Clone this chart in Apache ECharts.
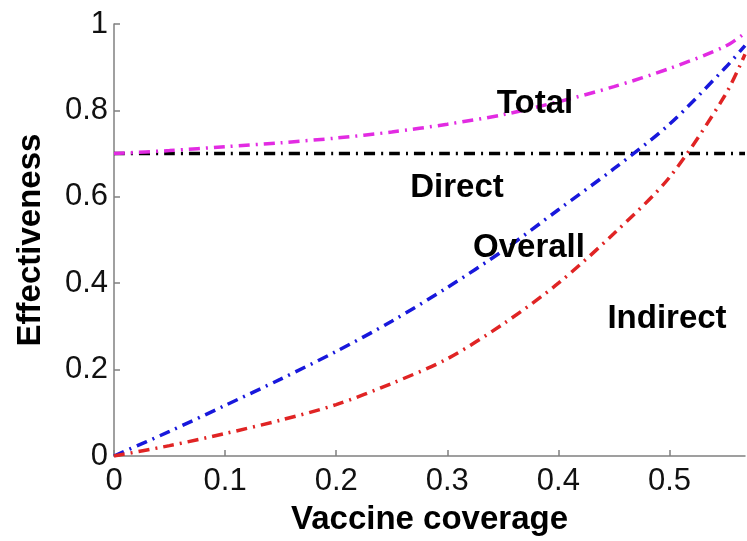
<!DOCTYPE html>
<html>
<head>
<meta charset="utf-8">
<script src="https://cdn.jsdelivr.net/npm/echarts@6/dist/echarts.min.js"></script>
<style>html,body{margin:0;padding:0;background:#fff;}#c{width:747px;height:541px;}</style>
</head>
<body>
<div id="c"></div>
<script>
// Vaccine coverage sample points
const coverage = [0, 0.05, 0.1, 0.15, 0.2, 0.25, 0.3, 0.35, 0.4, 0.45, 0.5, 0.55, 0.568];
const totalEff    = [0.70, 0.707, 0.716, 0.725, 0.736, 0.75, 0.768, 0.79, 0.82, 0.855, 0.897, 0.948, 0.979];
const directEff   = [0.70, 0.70, 0.70, 0.70, 0.70, 0.70, 0.70, 0.70, 0.70, 0.70, 0.70, 0.70, 0.70];
const overallEff  = [0, 0.057, 0.117, 0.178, 0.242, 0.312, 0.39, 0.475, 0.57, 0.665, 0.768, 0.898, 0.95];
const indirectEff = [0, 0.024, 0.052, 0.083, 0.119, 0.168, 0.225, 0.305, 0.40, 0.515, 0.645, 0.835, 0.93];
const xTicks = [0, 0.1, 0.2, 0.3, 0.4, 0.5];
const yTicks = [0, 0.2, 0.4, 0.6, 0.8, 1];
const labels = ['Total', 'Direct', 'Overall', 'Indirect'];

const pair = ys => coverage.map((x, i) => [x, ys[i]]);
const dashDot = [11, 6, 2, 6];
const FONT = '"Liberation Sans", Arial, sans-serif';

const chart = echarts.init(document.getElementById('c'), null, {renderer: 'canvas'});
const mkSeries = (name, ys, color) => ({
  name, type: 'line', data: pair(ys), smooth: 0.3, symbol: 'none',
  lineStyle: {color, width: 3.5, type: dashDot}, z: 3
});
chart.setOption({
  animation: false,
  backgroundColor: '#fff',
  grid: {left: 114, top: 24, right: 2, bottom: 80, containLabel: false},
  xAxis: {
    type: 'value', min: 0, max: 0.568, interval: 0.1,
    name: 'Vaccine coverage', nameLocation: 'middle', nameGap: 47,
    nameTextStyle: {fontSize: 33, fontWeight: 'bold', color: '#000', fontFamily: FONT},
    axisLine: {show: true, onZero: false, lineStyle: {color: '#808080', width: 1.5}},
    axisTick: {show: true, inside: true, length: 6, lineStyle: {color: '#808080', width: 1.5}},
    axisLabel: {fontSize: 31, color: '#111', fontFamily: FONT, margin: 10, showMaxLabel: false,
      formatter: v => xTicks.some(t => Math.abs(t - v) < 1e-9) ? String(+v.toFixed(1)) : ''},
    splitLine: {show: false}
  },
  yAxis: {
    type: 'value', min: 0, max: 1, interval: 0.2,
    name: 'Effectiveness', nameLocation: 'middle', nameGap: 67,
    nameTextStyle: {fontSize: 33, fontWeight: 'bold', color: '#000', fontFamily: FONT},
    axisLine: {show: true, onZero: false, lineStyle: {color: '#808080', width: 1.5}},
    axisTick: {show: true, inside: true, length: 6, lineStyle: {color: '#808080', width: 1.5}},
    axisLabel: {fontSize: 31, color: '#111', fontFamily: FONT, margin: 6,
      formatter: v => yTicks.some(t => Math.abs(t - v) < 1e-9) ? String(+v.toFixed(1)) : ''},
    splitLine: {show: false}
  },
  series: [
    mkSeries('Direct', directEff, '#000000'),
    mkSeries('Total', totalEff, '#e22be2'),
    mkSeries('Overall', overallEff, '#1818dc'),
    mkSeries('Indirect', indirectEff, '#e02424')
  ],
  graphic: [
    {type: 'text', x: 535, y: 104, style: {text: labels[0], font: 'bold 33px ' + FONT, fill: '#000', align: 'center', verticalAlign: 'middle'}, z: 10},
    {type: 'text', x: 457, y: 188, style: {text: labels[1], font: 'bold 33px ' + FONT, fill: '#000', align: 'center', verticalAlign: 'middle'}, z: 10},
    {type: 'text', x: 529, y: 248, style: {text: labels[2], font: 'bold 33px ' + FONT, fill: '#000', align: 'center', verticalAlign: 'middle'}, z: 10},
    {type: 'text', x: 667, y: 319, style: {text: labels[3], font: 'bold 33px ' + FONT, fill: '#000', align: 'center', verticalAlign: 'middle'}, z: 10}
  ]
});
</script>
</body>
</html>
